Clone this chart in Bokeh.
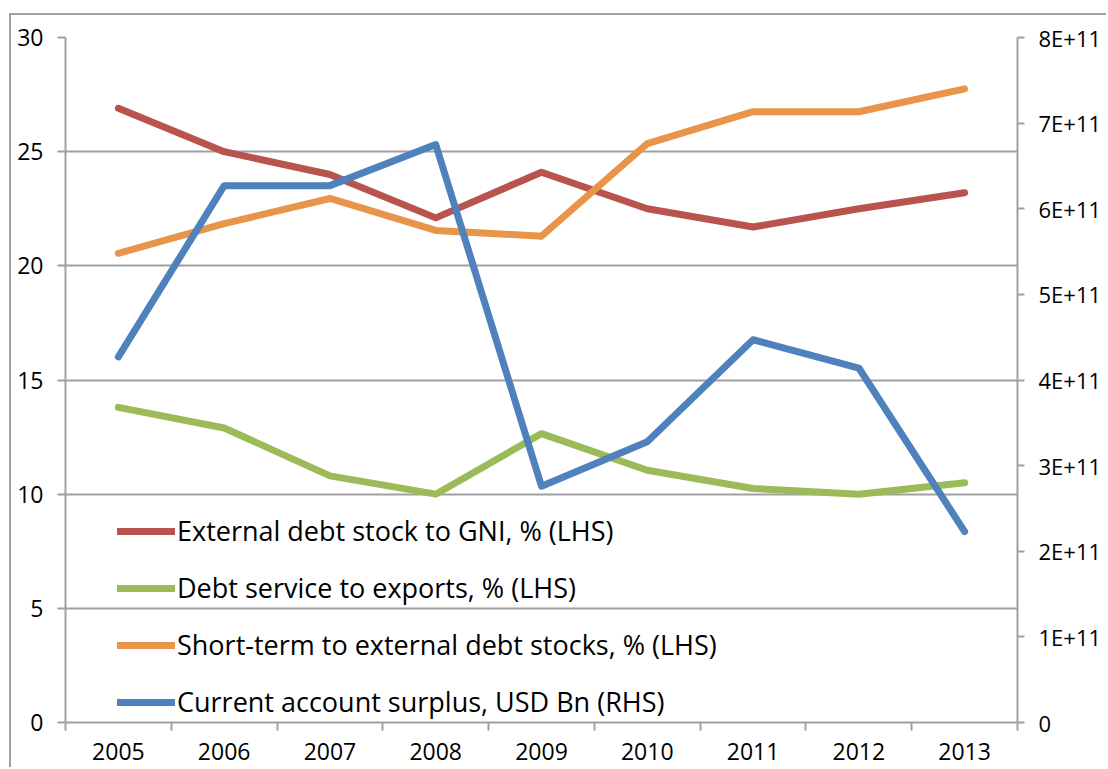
from bokeh.plotting import figure
from bokeh.models import (Range1d, LinearAxis, FixedTicker, CustomJSTickFormatter,
                          Legend, LegendItem)
from bokeh.embed import file_html
from bokeh.resources import INLINE

years = ["2005", "2006", "2007", "2008", "2009", "2010", "2011", "2012", "2013"]
debt_to_gni = [26.9, 25.0, 24.0, 22.1, 24.1, 22.5, 21.7, 22.5, 23.2]
debt_service = [13.8, 12.9, 10.8, 10.0, 12.65, 11.05, 10.25, 10.0, 10.5]
short_term = [20.55, 21.85, 22.95, 21.55, 21.3, 25.35, 26.75, 26.75, 27.75]
current_account = [4.27e11, 6.27e11, 6.27e11, 6.75e11, 2.76e11, 3.28e11, 4.47e11, 4.14e11, 2.23e11]

lhs_ticks = [0, 5, 10, 15, 20, 25, 30]
rhs_ticks = [0, 1e11, 2e11, 3e11, 4e11, 5e11, 6e11, 7e11, 8e11]

labels = [
    "External debt stock to GNI, % (LHS)",
    "Debt service to exports, % (LHS)",
    "Short-term to external debt stocks, % (LHS)",
    "Current account surplus, USD Bn (RHS)",
]
colors = ["#B9534E", "#9BBB59", "#E8944A", "#4F81BD"]

GRAY = "#A0A0A0"
FONT = "Open Sans"

n = len(years)
xs = [i + 0.5 for i in range(n)]

p = figure(width=1097, height=754, output_backend="svg", toolbar_location=None,
           x_range=Range1d(0, n), y_range=Range1d(lhs_ticks[0], lhs_ticks[-1]),
           min_border_left=54, min_border_right=91, min_border_top=22, min_border_bottom=47,
           margin=(13, 0, 0, 9),
           styles={"border-left": "2px solid #A0A0A0", "border-top": "2px solid #A0A0A0"})
p.extra_y_ranges = {"rhs": Range1d(rhs_ticks[0], rhs_ticks[-1])}
p.outline_line_color = None
p.background_fill_color = "white"
p.border_fill_color = "white"

# x axis: labels at category centers, tick marks between categories
xa = p.xaxis[0]
xa.ticker = FixedTicker(ticks=xs, minor_ticks=list(range(n + 1)))
xa.formatter = CustomJSTickFormatter(args=dict(labels=years),
                                     code="return labels[Math.floor(tick)];")
xa.major_tick_out = 0
xa.major_tick_in = 0
xa.minor_tick_out = 8
xa.minor_tick_in = 0
xa.minor_tick_line_color = GRAY
xa.minor_tick_line_width = 2
xa.axis_line_color = GRAY
xa.axis_line_width = 2
xa.major_label_text_font = FONT
xa.major_label_text_font_size = "23px"
xa.major_label_text_color = "black"
xa.major_label_standoff = 12

ya = p.yaxis[0]
ya.ticker = FixedTicker(ticks=lhs_ticks)
ya.major_tick_out = 8
ya.major_tick_in = 0
ya.minor_tick_out = 0
ya.minor_tick_in = 0
ya.major_tick_line_color = GRAY
ya.major_tick_line_width = 2
ya.axis_line_color = GRAY
ya.axis_line_width = 2
ya.major_label_text_font = FONT
ya.major_label_text_font_size = "23px"
ya.major_label_text_color = "black"
ya.major_label_standoff = 14

ra = LinearAxis(y_range_name="rhs")
ra.ticker = FixedTicker(ticks=rhs_ticks)
ra.formatter = CustomJSTickFormatter(
    code="if (tick == 0) { return '0'; } var e = Math.floor(Math.log10(tick) + 1e-9); "
         "var m = Math.round(tick / Math.pow(10, e)); return m + 'E+' + e;")
ra.major_tick_out = 7
ra.major_tick_in = 0
ra.minor_tick_out = 0
ra.minor_tick_in = 0
ra.major_tick_line_color = GRAY
ra.major_tick_line_width = 2
ra.axis_line_color = GRAY
ra.axis_line_width = 2
ra.major_label_text_font = FONT
ra.major_label_text_font_size = "22px"
ra.major_label_text_color = "black"
ra.major_label_standoff = 14
p.add_layout(ra, "right")

p.xgrid.visible = False
p.ygrid.ticker = FixedTicker(ticks=lhs_ticks)
p.ygrid.grid_line_color = GRAY
p.ygrid.grid_line_width = 2

r1 = p.line(xs, debt_to_gni, line_color=colors[0], line_width=7, line_cap="round", line_join="round")
r2 = p.line(xs, debt_service, line_color=colors[1], line_width=7, line_cap="round", line_join="round")
r3 = p.line(xs, short_term, line_color=colors[2], line_width=7, line_cap="round", line_join="round")
r4 = p.line(xs, current_account, y_range_name="rhs", line_color=colors[3], line_width=7,
            line_cap="round", line_join="round")

legend = Legend(items=[LegendItem(label=l, renderers=[r]) for l, r in zip(labels, [r1, r2, r3, r4])],
                location=(52, 2), orientation="vertical",
                background_fill_alpha=0, border_line_alpha=0,
                glyph_width=58, glyph_height=36, label_height=36, spacing=20,
                label_text_font=FONT, label_text_font_size="27px", label_text_color="black",
                label_standoff=2, padding=0, margin=0)
p.add_layout(legend)

open("out.html", "w").write(file_html(p, INLINE))
